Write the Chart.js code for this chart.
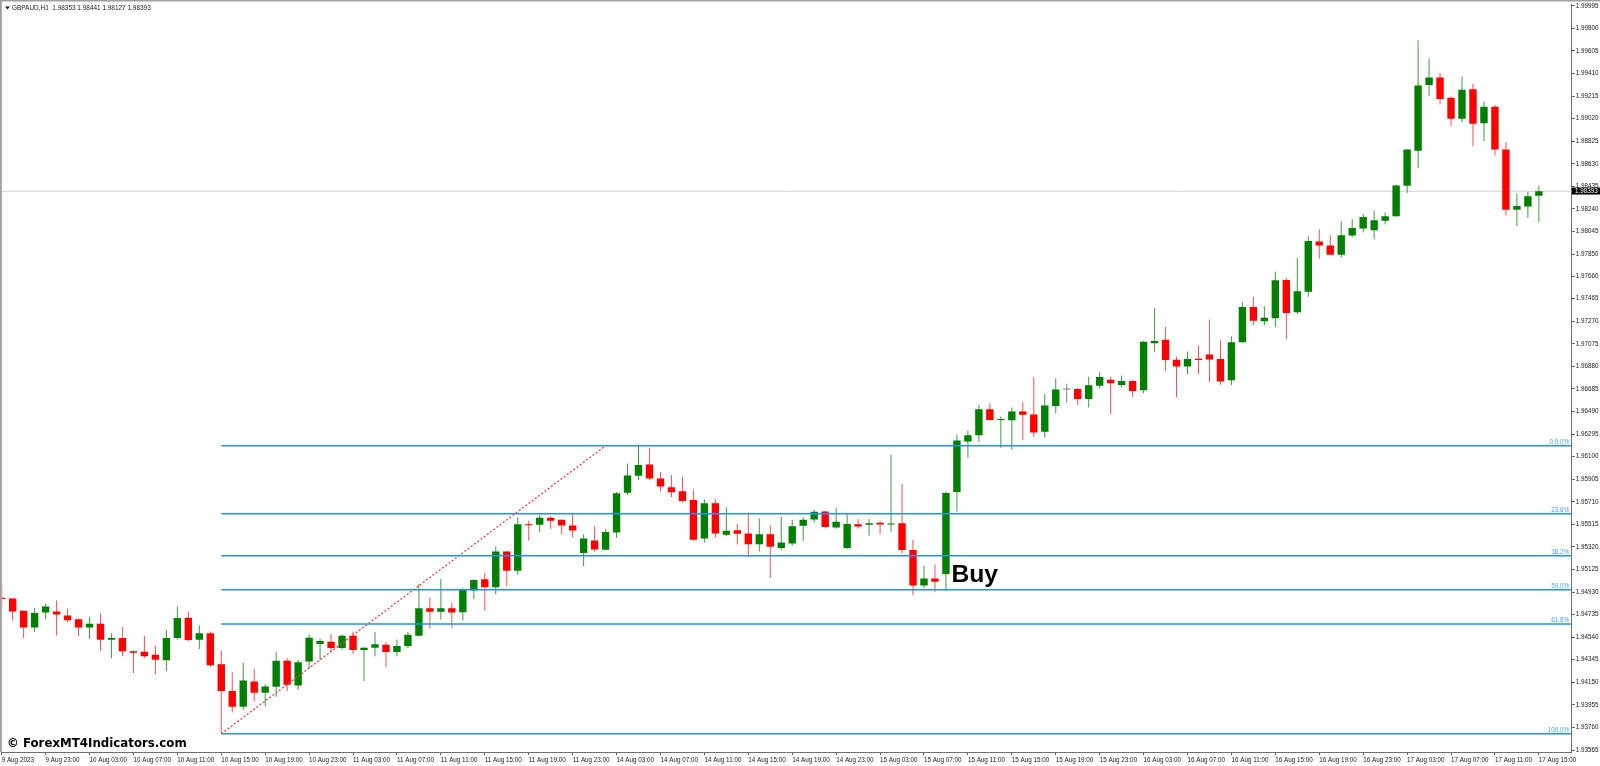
<!DOCTYPE html>
<html>
<head>
<meta charset="utf-8">
<title>GBPAUD,H1</title>
<script src="https://cdn.jsdelivr.net/npm/chart.js@4"></script>
<style>
html,body{margin:0;padding:0;background:#fff;overflow:hidden}
#wrap{width:1600px;height:766px}
canvas{display:block}
</style>
</head>
<body>
<div id="wrap"><canvas id="c" width="1600" height="766"></canvas></div>
<script>
const tickLabels = ["9 Aug 2023","9 Aug 23:00","10 Aug 03:00","10 Aug 07:00","10 Aug 11:00","10 Aug 15:00","10 Aug 19:00","10 Aug 23:00","11 Aug 03:00","11 Aug 07:00","11 Aug 11:00","11 Aug 15:00","11 Aug 19:00","11 Aug 23:00","14 Aug 03:00","14 Aug 07:00","14 Aug 11:00","14 Aug 15:00","14 Aug 19:00","14 Aug 23:00","15 Aug 03:00","15 Aug 07:00","15 Aug 11:00","15 Aug 15:00","15 Aug 19:00","15 Aug 23:00","16 Aug 03:00","16 Aug 07:00","16 Aug 11:00","16 Aug 15:00","16 Aug 19:00","16 Aug 23:00","17 Aug 03:00","17 Aug 07:00","17 Aug 11:00","17 Aug 15:00"];
const priceTicks = [1.99995,1.99800,1.99605,1.99410,1.99215,1.99020,1.98825,1.98630,1.98435,1.98240,1.98045,1.97850,1.97660,1.97465,1.97270,1.97075,1.96880,1.96685,1.96490,1.96295,1.96100,1.95905,1.95710,1.95515,1.95320,1.95125,1.94930,1.94735,1.94540,1.94345,1.94150,1.93955,1.93760,1.93565];

const opens = [1.94880,1.94874,1.94768,1.94624,1.94753,1.94762,1.94727,1.94696,1.94624,1.94656,1.94518,1.94532,1.94418,1.94415,1.94389,1.94340,1.94532,1.94707,1.94518,1.94573,
1.94306,1.94076,1.93938,1.94157,1.94059,1.94111,1.94337,1.94122,1.94329,1.94481,1.94501,1.94446,1.94552,1.94429,1.94449,1.94475,1.94412,1.94464,1.94552,1.94791,
1.94759,1.94791,1.94756,1.94943,1.95040,1.94971,1.95281,1.95115,1.95516,1.95511,1.95571,1.95554,1.95505,1.95267,1.95376,1.95296,1.95445,1.95789,1.95935,1.96033,
1.95912,1.95835,1.95800,1.95726,1.95393,1.95697,1.95425,1.95465,1.95436,1.95344,1.95430,1.95310,1.95350,1.95502,1.95557,1.95625,1.95488,1.95310,1.95516,1.95511,
1.95528,1.95514,1.95525,1.95293,1.94986,1.95046,1.95086,1.95795,1.96231,1.96285,1.96509,1.96417,1.96415,1.96489,1.96463,1.96314,1.96538,1.96681,1.96684,1.96598,
1.96713,1.96765,1.96719,1.96753,1.96673,1.97080,1.97109,1.96937,1.96879,1.96945,1.96983,1.96943,1.96761,1.97089,1.97393,1.97270,1.97296,1.97626,1.97347,1.97525,
1.97958,1.97924,1.97844,1.98010,1.98070,1.98056,1.98139,1.98176,1.98440,1.98742,1.99310,1.99376,1.99201,1.99020,1.99275,1.98980,1.99123,1.98753,1.98234,1.98262,
1.98353];
const highs = [1.95000,1.94874,1.94768,1.94793,1.94828,1.94857,1.94785,1.94702,1.94716,1.94745,1.94573,1.94627,1.94423,1.94550,1.94466,1.94604,1.94805,1.94762,1.94644,1.94590,
1.94426,1.94237,1.94320,1.94268,1.94131,1.94409,1.94357,1.94343,1.94564,1.94527,1.94570,1.94561,1.94587,1.94455,1.94584,1.94495,1.94521,1.94584,1.95000,1.94882,
1.95043,1.94839,1.94966,1.95040,1.95095,1.95324,1.95287,1.95577,1.95548,1.95600,1.95585,1.95554,1.95605,1.95430,1.95499,1.95473,1.95795,1.96041,1.96194,1.96176,
1.95964,1.95941,1.95927,1.95815,1.95732,1.95737,1.95663,1.95519,1.95620,1.95568,1.95508,1.95580,1.95554,1.95577,1.95640,1.95631,1.95657,1.95608,1.95562,1.95562,
1.95542,1.96116,1.95864,1.95379,1.95158,1.95169,1.95798,1.96291,1.96326,1.96549,1.96561,1.96446,1.96524,1.96570,1.96788,1.96641,1.96776,1.96730,1.96693,1.96790,
1.96828,1.96793,1.96802,1.96759,1.97100,1.97387,1.97221,1.96965,1.97009,1.97060,1.97284,1.97103,1.97138,1.97433,1.97479,1.97399,1.97697,1.97643,1.97818,1.98004,
1.98065,1.98013,1.98133,1.98151,1.98194,1.98225,1.98208,1.98452,1.98753,1.99697,1.99539,1.99413,1.99212,1.99384,1.99324,1.99169,1.99135,1.98816,1.98374,1.98386,
1.98441];
const lows = [1.94793,1.94684,1.94532,1.94584,1.94696,1.94555,1.94670,1.94550,1.94527,1.94420,1.94357,1.94375,1.94231,1.94360,1.94220,1.94245,1.94521,1.94504,1.94438,1.94283,
1.93705,1.93890,1.93913,1.93982,1.93944,1.94025,1.94076,1.94085,1.94271,1.94340,1.94412,1.94432,1.94392,1.94162,1.94375,1.94280,1.94375,1.94446,1.94547,1.94616,
1.94693,1.94621,1.94684,1.94868,1.94771,1.94911,1.94980,1.95080,1.95373,1.95448,1.95476,1.95430,1.95402,1.95152,1.95278,1.95290,1.95399,1.95769,1.95898,1.95898,
1.95798,1.95752,1.95703,1.95373,1.95356,1.95402,1.95413,1.95341,1.95230,1.95281,1.95052,1.95290,1.95333,1.95373,1.95531,1.95482,1.95476,1.95301,1.95479,1.95419,
1.95430,1.95451,1.95264,1.94900,1.94966,1.94928,1.94940,1.95625,1.96090,1.96228,1.96409,1.96176,1.96159,1.96242,1.96271,1.96265,1.96478,1.96567,1.96547,1.96524,
1.96690,1.96469,1.96699,1.96618,1.96647,1.97009,1.96842,1.96613,1.96813,1.96813,1.96745,1.96722,1.96718,1.97086,1.97235,1.97235,1.97218,1.97115,1.97333,1.97482,
1.97812,1.97844,1.97821,1.97993,1.98036,1.97976,1.98105,1.98173,1.98377,1.98592,1.99215,1.99143,1.98957,1.98988,1.98782,1.98828,1.98704,1.98185,1.98093,1.98162,
1.98127];
const closes = [1.94871,1.94762,1.94624,1.94750,1.94805,1.94736,1.94687,1.94624,1.94656,1.94518,1.94532,1.94418,1.94406,1.94375,1.94346,1.94532,1.94705,1.94515,1.94573,1.94297,
1.94076,1.93938,1.94165,1.94059,1.94114,1.94337,1.94128,1.94323,1.94535,1.94507,1.94446,1.94552,1.94429,1.94449,1.94478,1.94412,1.94464,1.94561,1.94791,1.94759,
1.94791,1.94753,1.94948,1.95034,1.94971,1.95281,1.95115,1.95516,1.95508,1.95571,1.95545,1.95505,1.95462,1.95393,1.95298,1.95448,1.95783,1.95938,1.96027,1.95910,
1.95841,1.95792,1.95717,1.95382,1.95697,1.95436,1.95459,1.95433,1.95344,1.95430,1.95321,1.95359,1.95499,1.95554,1.95623,1.95491,1.95537,1.95519,1.95496,1.95525,
1.95514,1.95519,1.95293,1.94986,1.95046,1.95020,1.95786,1.96239,1.96285,1.96509,1.96417,1.96426,1.96489,1.96461,1.96308,1.96541,1.96681,1.96681,1.96598,1.96716,
1.96788,1.96733,1.96753,1.96667,1.97092,1.97100,1.96934,1.96879,1.96943,1.96934,1.96940,1.96750,1.97088,1.97393,1.97273,1.97301,1.97623,1.97342,1.97528,1.97964,
1.97924,1.97844,1.98013,1.98076,1.98171,1.98142,1.98176,1.98443,1.98753,1.99307,1.99376,1.99189,1.99020,1.99269,1.98977,1.99123,1.98753,1.98234,1.98265,1.98349,
1.98393];

const fibLevels = [1.96193,1.95606,1.95243,1.94949,1.94655,1.93705];
const fibTexts = ["0.0.0%","23.6%","38.2%","50.0%","61.8%","100.0%"];
const fibStartIndex = 20;
const trendFrom = 1.93705, trendTo = 1.96193, trendStartIndex = 20, trendEndIndex = 55;
const currentPrice = 1.98393;
const headerText = "GBPAUD,H1  1.98353 1.98441 1.98127 1.98393";
const watermark = "\u00A9 ForexMT4Indicators.com";

const SLOTS = 144;
const categories = [];
for (let i = 0; i < SLOTS; i++) categories.push(i % 4 === 0 && tickLabels[i / 4] ? tickLabels[i / 4] : "");

const RED = "#ff0000", GREEN = "#007f00", GRAY = "#808080";
const bodyColor = opens.map((o, i) => closes[i] > o ? GREEN : closes[i] < o ? RED : GRAY);
const wickColor = opens.map((o, i) => closes[i] > o ? "#3f9a3f" : closes[i] < o ? "#ff5050" : GRAY);

function spanSeries(a, va, b, vb) {
  const s = new Array(SLOTS).fill(null);
  s[a] = va; s[b] = vb;
  return s;
}
const lineBase = { type: "line", pointRadius: 0, spanGaps: true, tension: 0, fill: false };
const fibDatasets = fibLevels.map((lv, k) => Object.assign({}, lineBase, {
  label: fibTexts[k], data: spanSeries(fibStartIndex, lv, SLOTS - 1, lv),
  borderColor: "#1e90ff", borderWidth: 1.5, order: 1
}));

const annotate = {
  id: "annotate",
  afterDraw(chart) {
    const { ctx, scales: { x, y } } = chart;
    ctx.save();
    ctx.fillStyle = "#a0a0a0";
    ctx.fillRect(0, 0, 1600, 1.5);
    ctx.fillRect(0, 0, 1.8, 752);
    ctx.fillStyle = "#202020";
    ctx.beginPath(); ctx.moveTo(5, 6.5); ctx.lineTo(10, 6.5); ctx.lineTo(7.5, 9.5); ctx.closePath(); ctx.fill();
    ctx.font = "6.45px 'Liberation Sans'";
    ctx.textBaseline = "alphabetic"; ctx.textAlign = "left";
    ctx.fillText(headerText, 12, 10);
    ctx.fillStyle = "#4a9fff"; ctx.textAlign = "right"; ctx.font = "6.3px 'Liberation Sans'";
    fibLevels.forEach((lv, k) => ctx.fillText(fibTexts[k], 1569, y.getPixelForValue(lv) - 2));
    const py = y.getPixelForValue(currentPrice);
    ctx.fillStyle = "#000"; ctx.fillRect(1571.8, py - 3.7, 28.2, 7);
    ctx.fillStyle = "#fff"; ctx.textAlign = "left"; ctx.font = "6.3px 'Liberation Sans'";
    ctx.fillText(currentPrice.toFixed(5), 1575, py + 2.2);
    ctx.fillStyle = "#000"; ctx.font = "bold 24.7px 'Liberation Sans'";
    ctx.fillText("Buy", x.getPixelForValue(86.5), y.getPixelForValue(1.95014));
    ctx.font = "bold 11.8px 'DejaVu Sans'";
    ctx.fillText(watermark, 7, 746.7);
    ctx.restore();
  }
};

new Chart(document.getElementById("c"), {
  data: {
    labels: categories,
    datasets: [
      Object.assign({}, lineBase, { label: "Price", data: spanSeries(0, currentPrice, SLOTS - 1, currentPrice), borderColor: "#cfcfcf", borderWidth: 1, order: 5 }),
      { type: "bar", label: "Wick", data: lows.map((l, i) => [l, highs[i]]), backgroundColor: wickColor, barThickness: 1, grouped: false, inflateAmount: 0, order: 4 },
      { type: "bar", label: "Body", data: opens.map((o, i) => [o, closes[i]]), backgroundColor: bodyColor, barThickness: 7.4, grouped: false, inflateAmount: 0, minBarLength: 1, order: 3 },
      ...fibDatasets,
      Object.assign({}, lineBase, { label: "Trend", data: spanSeries(trendStartIndex, trendFrom, trendEndIndex, trendTo), borderColor: "#ff3c3c", borderWidth: 1.3, borderDash: [2, 2], order: 1 })
    ]
  },
  options: {
    responsive: false,
    devicePixelRatio: 1,
    animation: false,
    layout: { autoPadding: false, padding: { left: 1.67, top: 2, right: 0, bottom: 0 } },
    plugins: { legend: { display: false }, tooltip: { enabled: false }, title: { display: false } },
    scales: {
      x: {
        type: "category", offset: false, position: "bottom",
        afterFit(s) { s.height = 14; },
        afterBuildTicks(s) { s.ticks = s.ticks.filter(t => t.value % 4 === 0 && t.value <= 140); },
        grid: { display: true, drawOnChartArea: false, drawTicks: true, tickLength: 3, color: "#606060", offset: false },
        border: { display: true, color: "#707070", width: 1 },
        ticks: {
          autoSkip: false, maxRotation: 0, minRotation: 0, align: "start", padding: 1,
          color: "#1a1a1a", font: { family: "'Liberation Sans'", size: 6.3 },
          callback(v) { return this.getLabelForValue(v); }
        }
      },
      y: {
        type: "linear", position: "right", min: 1.93548, max: 2.00004,
        afterFit(s) { s.width = 28.2; },
        afterBuildTicks(s) { s.ticks = priceTicks.map(value => ({ value })); },
        grid: { display: true, drawOnChartArea: false, drawTicks: true, tickLength: 3, color: "#606060" },
        border: { display: true, color: "#707070", width: 1 },
        ticks: {
          padding: 1, color: "#1a1a1a", font: { family: "'Liberation Sans'", size: 6.3 },
          callback(v) { return v.toFixed(5); }
        }
      }
    }
  },
  plugins: [annotate]
});
</script>
</body>
</html>
